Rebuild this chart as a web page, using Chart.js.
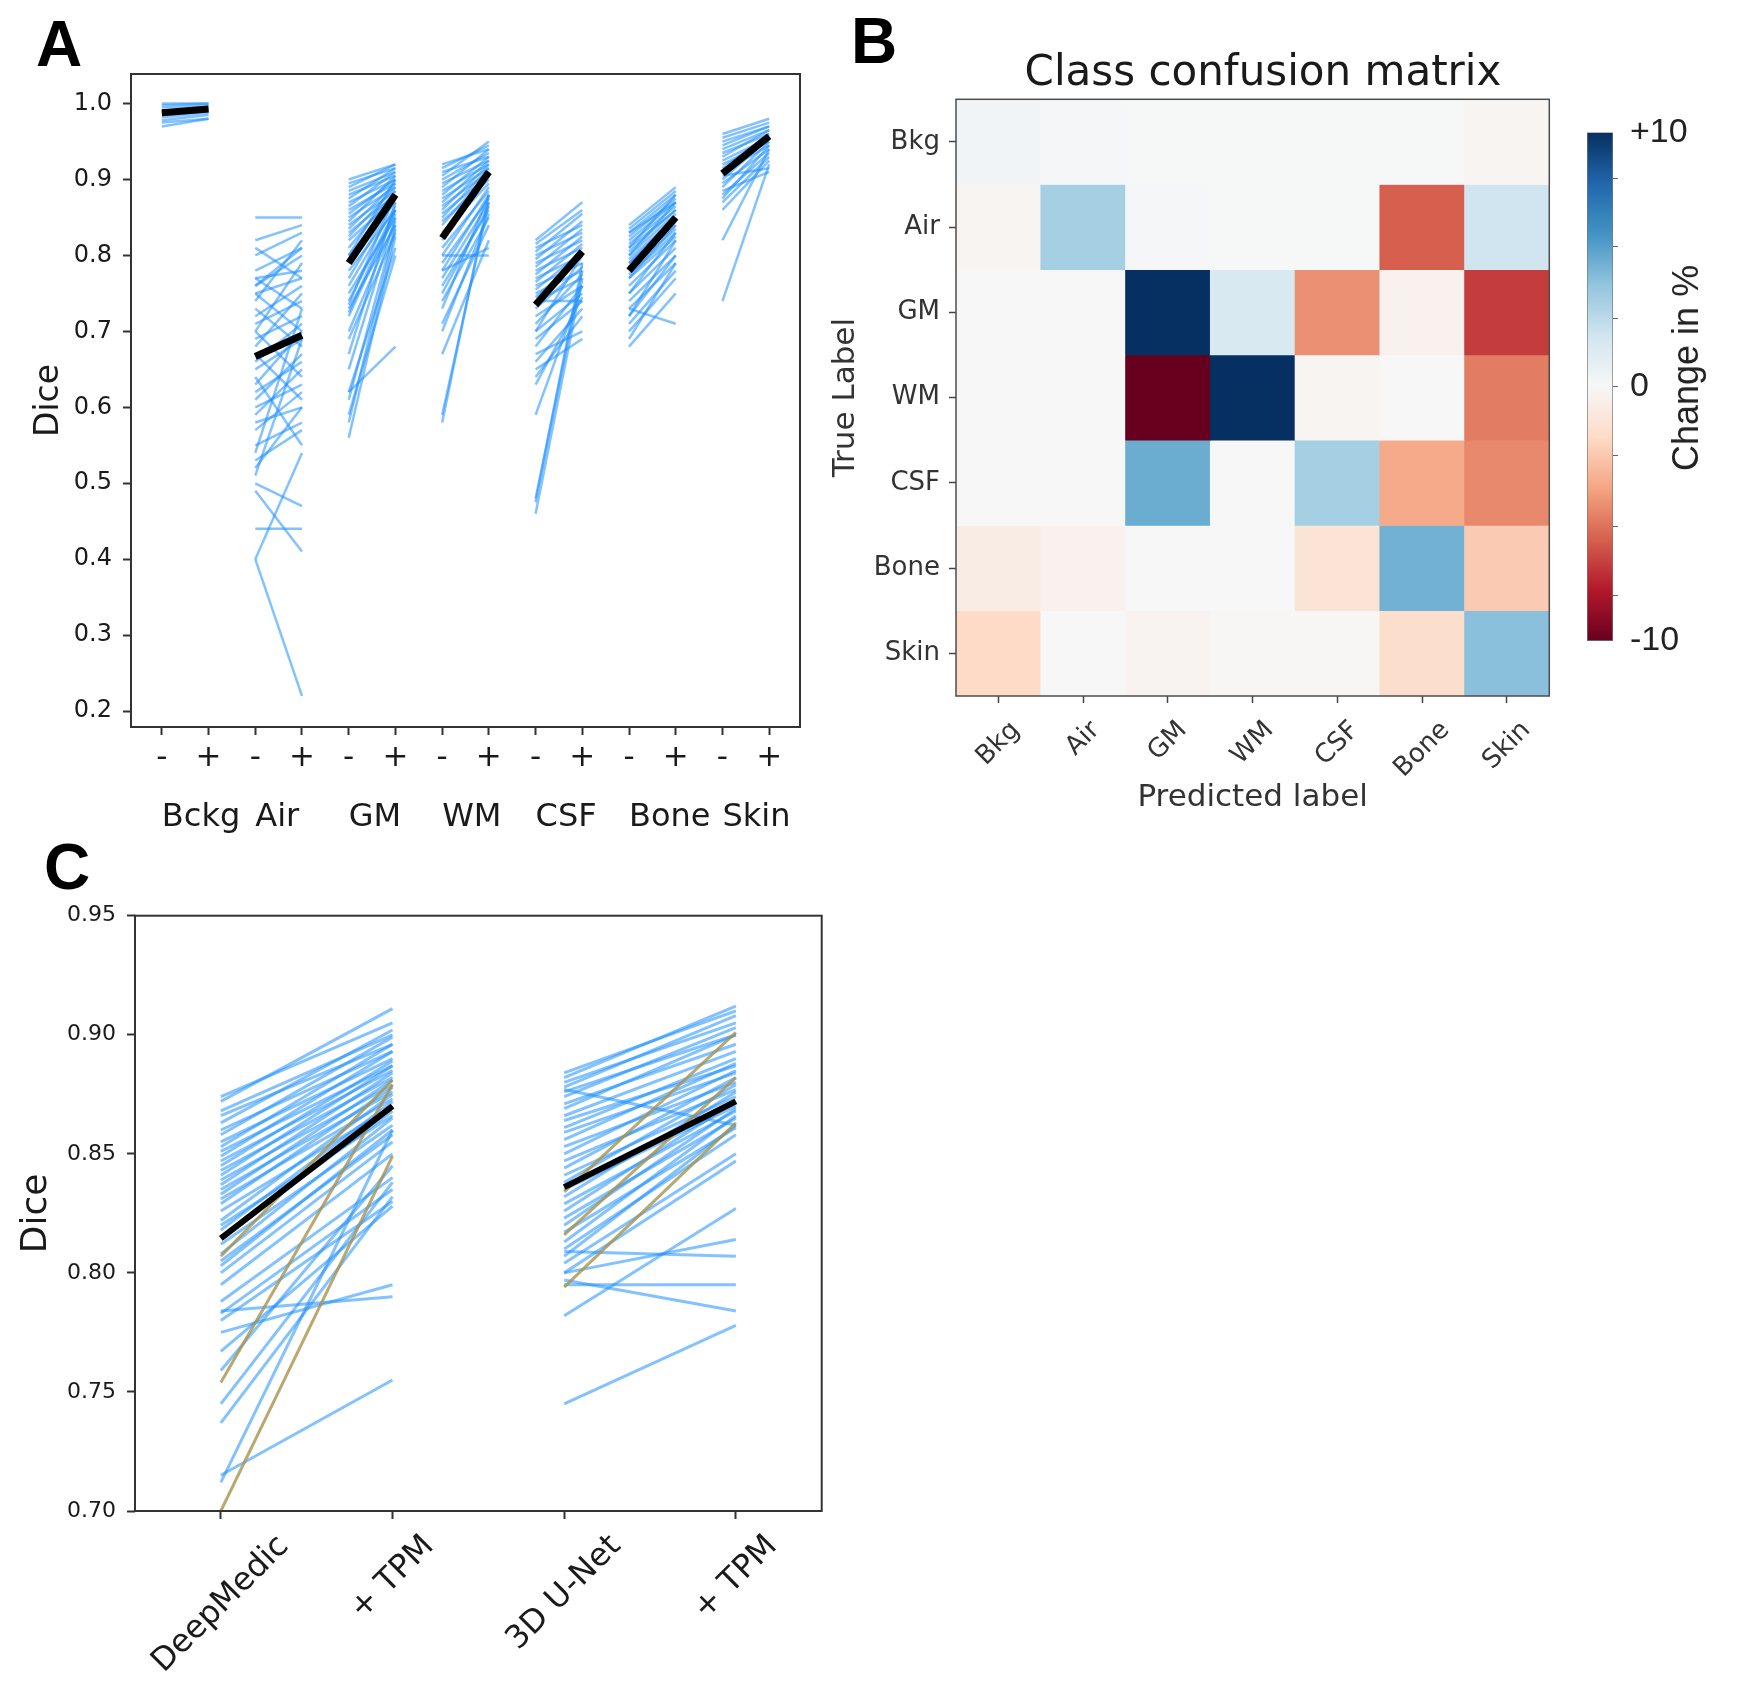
<!DOCTYPE html>
<html>
<head>
<meta charset="utf-8">
<title>Dice scores and class confusion</title>
<script src="https://cdn.jsdelivr.net/npm/chart.js@4.4.1/dist/chart.umd.min.js"></script>
<style>
  html, body { margin: 0; padding: 0; background: #fff; }
  #page { position: relative; width: 1738px; height: 1690px; overflow: hidden; background: #fff; }
  canvas { position: absolute; }
  .letter { position: absolute; font: bold 64px "Liberation Sans", Arial, sans-serif; line-height: 1; color: #000; }
  .txt { position: absolute; white-space: nowrap; line-height: 1; }
  #titleB { left: 1263px; top: 46px; transform: translateX(-50%); font: 42px "DejaVu Sans", sans-serif; color: #1a1a1a; }
  #cbarLabel { left: 1686px; top: 368px; transform: translate(-50%, -50%) rotate(-90deg); font: 36px "Liberation Sans", Arial, sans-serif; color: #222; }
</style>
</head>
<body>
<div id="page">
  <canvas id="chartA" width="830" height="860" style="left:0;top:0"></canvas>
  <canvas id="chartB" width="750" height="860" style="left:820px;top:0"></canvas>
  <canvas id="cbar" width="178" height="600" style="left:1560px;top:100px"></canvas>
  <canvas id="chartC" width="840" height="850" style="left:0;top:840px"></canvas>
  <div class="letter" style="left:36px;top:12px">A</div>
  <div class="letter" style="left:851px;top:9px">B</div>
  <div class="letter" style="left:44px;top:835px">C</div>
  <div class="txt" id="titleB">Class confusion matrix</div>
  <div class="txt" id="cbarLabel">Change in %</div>
</div>
<script>
// ---- panel A: Dice per subject, without (-) and with (+) ----
const classNamesA = ["Bckg", "Air", "GM", "WM", "CSF", "Bone", "Skin"];
const signLabels = ["-", "+"];
const yTicksA = [0.2, 0.3, 0.4, 0.5, 0.6, 0.7, 0.8, 0.9, 1.0];

const bckgBefore = [1.0, 0.998, 0.995, 0.99, 0.988, 0.985, 0.982, 0.978, 0.975, 0.97];
const bckgAfter = [1.0, 1.0, 0.998, 0.995, 0.993, 0.99, 0.988, 0.985, 0.98, 0.98];

const airBefore = [0.85, 0.82, 0.81, 0.80, 0.78, 0.77, 0.77, 0.76, 0.75, 0.75, 0.74, 0.73, 0.72, 0.71, 0.70, 0.70, 0.69, 0.68, 0.67, 0.66,
  0.65, 0.64, 0.63, 0.62, 0.61, 0.60, 0.59, 0.58, 0.57, 0.55, 0.54, 0.53, 0.51, 0.50, 0.49, 0.44, 0.40, 0.40, 0.52, 0.76];
const airAfter = [0.85, 0.84, 0.77, 0.83, 0.81, 0.78, 0.73, 0.80, 0.70, 0.77, 0.82, 0.68, 0.76, 0.74, 0.79, 0.64, 0.72, 0.75, 0.61, 0.71,
  0.69, 0.55, 0.70, 0.66, 0.67, 0.63, 0.65, 0.60, 0.62, 0.58, 0.73, 0.57, 0.69, 0.47, 0.41, 0.44, 0.22, 0.54, 0.60, 0.81];

const gmBefore = [0.90, 0.895, 0.89, 0.885, 0.88, 0.875, 0.87, 0.865, 0.86, 0.855, 0.85, 0.845, 0.84, 0.835, 0.83, 0.825, 0.82,
  0.81, 0.80, 0.79, 0.78, 0.77, 0.76, 0.75, 0.74, 0.73, 0.72, 0.70, 0.69, 0.67, 0.65, 0.62, 0.61, 0.59, 0.58, 0.56, 0.735, 0.725, 0.80, 0.62];
const gmAfter = [0.92, 0.915, 0.92, 0.91, 0.905, 0.915, 0.90, 0.91, 0.895, 0.90, 0.89, 0.905, 0.885, 0.895, 0.88, 0.89, 0.875,
  0.885, 0.87, 0.88, 0.86, 0.875, 0.865, 0.85, 0.86, 0.84, 0.855, 0.845, 0.83, 0.87, 0.85, 0.81, 0.84, 0.80, 0.835, 0.825, 0.88, 0.86, 0.90, 0.68];

const wmBefore = [0.92, 0.915, 0.91, 0.905, 0.90, 0.895, 0.89, 0.885, 0.88, 0.875, 0.87, 0.865, 0.86, 0.855, 0.85, 0.845, 0.84,
  0.83, 0.82, 0.81, 0.80, 0.79, 0.78, 0.77, 0.76, 0.75, 0.74, 0.73, 0.71, 0.70, 0.67, 0.59, 0.58, 0.80, 0.78];
const wmAfter = [0.94, 0.945, 0.93, 0.95, 0.935, 0.925, 0.94, 0.92, 0.93, 0.915, 0.925, 0.91, 0.92, 0.905, 0.915, 0.90, 0.91,
  0.895, 0.905, 0.885, 0.89, 0.875, 0.88, 0.87, 0.86, 0.865, 0.85, 0.88, 0.84, 0.855, 0.82, 0.87, 0.88, 0.80, 0.81];

const csfBefore = [0.82, 0.815, 0.81, 0.805, 0.80, 0.795, 0.79, 0.785, 0.78, 0.775, 0.77, 0.765, 0.76, 0.755, 0.75, 0.745, 0.74,
  0.73, 0.72, 0.71, 0.70, 0.69, 0.68, 0.67, 0.66, 0.65, 0.64, 0.63, 0.59, 0.48, 0.475, 0.46, 0.74, 0.70];
const csfAfter = [0.87, 0.86, 0.84, 0.855, 0.83, 0.845, 0.82, 0.835, 0.81, 0.825, 0.80, 0.815, 0.79, 0.805, 0.78, 0.80, 0.77,
  0.785, 0.76, 0.775, 0.75, 0.74, 0.76, 0.70, 0.73, 0.69, 0.72, 0.745, 0.76, 0.78, 0.79, 0.77, 0.74, 0.80];

const boneBefore = [0.84, 0.835, 0.83, 0.825, 0.82, 0.815, 0.81, 0.805, 0.80, 0.795, 0.79, 0.785, 0.78, 0.775, 0.77,
  0.76, 0.75, 0.74, 0.73, 0.72, 0.71, 0.70, 0.69, 0.68, 0.73, 0.80, 0.83, 0.81, 0.79, 0.77, 0.75, 0.72];
const boneAfter = [0.89, 0.885, 0.88, 0.875, 0.87, 0.865, 0.88, 0.86, 0.855, 0.85, 0.845, 0.84, 0.835, 0.83, 0.825,
  0.82, 0.81, 0.80, 0.79, 0.80, 0.78, 0.77, 0.79, 0.75, 0.71, 0.87, 0.87, 0.86, 0.85, 0.84, 0.83, 0.82];

const skinBefore = [0.96, 0.955, 0.95, 0.945, 0.94, 0.935, 0.93, 0.925, 0.92, 0.915, 0.91, 0.90, 0.895, 0.89, 0.88,
  0.875, 0.87, 0.86, 0.82, 0.74, 0.905, 0.885];
const skinAfter = [0.98, 0.975, 0.97, 0.97, 0.965, 0.96, 0.965, 0.955, 0.95, 0.96, 0.945, 0.955, 0.94, 0.95, 0.935,
  0.945, 0.93, 0.925, 0.94, 0.92, 0.915, 0.91];

const meanBeforeA = [0.988, 0.667, 0.79, 0.823, 0.735, 0.78, 0.908];
const meanAfterA = [0.993, 0.695, 0.88, 0.91, 0.805, 0.85, 0.957];

// ---- panel B: change of the confusion matrix, in % (rows = true, cols = predicted) ----
const cmLabels = ["Bkg", "Air", "GM", "WM", "CSF", "Bone", "Skin"];
const cmChange = [
  [0.3, 0.1, 0.05, 0.05, 0.05, 0.05, -0.2],
  [-0.2, 3.4, 0.1, 0.05, 0.05, -6.0, 2.0],
  [0.0, 0.0, 10, 1.6, -4.6, -0.4, -7.0],
  [0.0, 0.0, -10, 10, -0.2, 0.0, -5.2],
  [0.0, 0.0, 5.0, 0.0, 3.4, -3.8, -4.8],
  [-0.8, -0.4, 0.0, 0.0, -1.4, 4.8, -2.6],
  [-2.0, 0.0, -0.3, -0.1, -0.1, -1.8, 4.2]
];
const cbarRange = [-10, 10];
const cbarLabelTicks = [-10, 0, 10];
const cbarMinorTicks = [-8.2, -5.5, -2.7, 0, 2.7, 5.5, 8.2];

// ---- panel C: DeepMedic / 3D U-Net, without and with TPM ----
const methodLabels = ["DeepMedic", "+ TPM", "3D U-Net", "+ TPM"];
const yTicksC = [0.70, 0.75, 0.80, 0.85, 0.90, 0.95];

const deepBefore = [0.874, 0.872, 0.868, 0.866, 0.863, 0.86, 0.858, 0.855, 0.853, 0.851, 0.849, 0.847, 0.845, 0.843, 0.841,
  0.839, 0.837, 0.835, 0.833, 0.831, 0.829, 0.826, 0.822, 0.82, 0.818, 0.815, 0.812, 0.808, 0.805, 0.803,
  0.80, 0.795, 0.788, 0.784, 0.783, 0.78, 0.775, 0.767, 0.759, 0.745, 0.737, 0.715, 0.712];
const deepAfter = [0.905, 0.911, 0.90, 0.896, 0.902, 0.893, 0.899, 0.89, 0.896, 0.887, 0.893, 0.885, 0.889, 0.882, 0.887,
  0.879, 0.884, 0.876, 0.881, 0.873, 0.878, 0.87, 0.875, 0.866, 0.872, 0.868, 0.862, 0.865, 0.858, 0.86,
  0.855, 0.85, 0.84, 0.79, 0.835, 0.83, 0.795, 0.828, 0.845, 0.838, 0.832, 0.755, 0.86];
const deepGoldBefore = [0.807, 0.754, 0.70];
const deepGoldAfter = [0.881, 0.879, 0.849];

const unetBefore = [0.884, 0.882, 0.88, 0.878, 0.876, 0.874, 0.871, 0.869, 0.866, 0.864, 0.861, 0.859, 0.856, 0.853, 0.85,
  0.847, 0.844, 0.841, 0.838, 0.835, 0.832, 0.829, 0.826, 0.823, 0.82, 0.817, 0.813, 0.81, 0.807, 0.804,
  0.80, 0.797, 0.795, 0.782, 0.745, 0.809, 0.80, 0.877];
const unetAfter = [0.91, 0.912, 0.905, 0.908, 0.90, 0.903, 0.896, 0.9, 0.893, 0.887, 0.89, 0.884, 0.888, 0.88, 0.885,
  0.877, 0.882, 0.874, 0.879, 0.87, 0.876, 0.868, 0.872, 0.865, 0.869, 0.861, 0.866, 0.858, 0.862, 0.85,
  0.847, 0.784, 0.795, 0.827, 0.778, 0.807, 0.814, 0.862];
const unetGoldBefore = [0.834, 0.816, 0.794];
const unetGoldAfter = [0.901, 0.882, 0.863];

const meanBeforeC = [0.8145, 0.836];
const meanAfterC = [0.870, 0.872];

// ---- styles ----
const FONT = "'DejaVu Sans', sans-serif";
const blueA = "rgba(30, 144, 255, 0.55)";
const blueC = "rgba(30, 144, 255, 0.55)";
const gold = "rgba(168, 146, 76, 0.8)";
const rdbuStops = ["#67001f", "#b2182b", "#d6604d", "#f4a582", "#fddbc7", "#f7f7f7",
  "#d1e5f0", "#92c5de", "#4393c3", "#2166ac", "#053061"];

Chart.defaults.font.family = FONT;
Chart.defaults.color = "#1a1a1a";

function hexRgb(h) {
  return [1, 3, 5].map(i => parseInt(h.slice(i, i + 2), 16));
}

function rdbu(v) {
  let t = (v - cbarRange[0]) / (cbarRange[1] - cbarRange[0]);
  t = Math.min(1, Math.max(0, t)) * (rdbuStops.length - 1);
  const i = Math.min(Math.floor(t), rdbuStops.length - 2);
  const f = t - i;
  const a = hexRgb(rdbuStops[i]), b = hexRgb(rdbuStops[i + 1]);
  const c = a.map((x, k) => Math.round(x + (b[k] - x) * f));
  return `rgb(${c[0]}, ${c[1]}, ${c[2]})`;
}

function segment(x0, x1, y0, y1, color, width, order) {
  return {
    data: [{ x: x0, y: y0 }, { x: x1, y: y1 }],
    showLine: true,
    borderColor: color,
    borderWidth: width,
    borderCapStyle: "butt",
    pointRadius: 0,
    pointHoverRadius: 0,
    tension: 0,
    order: order
  };
}

// box round the plot area, like matplotlib spines
const framePlugin = {
  id: "frame",
  afterDatasetsDraw(chart, args, opts) {
    const { ctx, chartArea: a } = chart;
    ctx.save();
    ctx.strokeStyle = opts.color || "#333";
    ctx.lineWidth = opts.width || 2;
    ctx.strokeRect(a.left, a.top, a.right - a.left, a.bottom - a.top);
    ctx.restore();
  }
};

// tick labels turned 45 degrees and centred under the tick
const slantPlugin = {
  id: "slant",
  afterDraw(chart, args, opts) {
    if (!opts.labels) return;
    const { ctx, chartArea } = chart;
    const scale = chart.scales.x;
    ctx.save();
    ctx.font = opts.size + "px " + FONT;
    ctx.fillStyle = opts.color;
    ctx.textAlign = "center";
    ctx.textBaseline = "middle";
    opts.labels.forEach((label, i) => {
      const w = ctx.measureText(label).width;
      const half = (w + opts.size) * Math.SQRT1_2 / 2;
      ctx.save();
      ctx.translate(scale.getPixelForValue(i), chartArea.bottom + opts.gap + half);
      ctx.rotate(-Math.PI / 4);
      ctx.fillText(label, 0, 0);
      ctx.restore();
    });
    ctx.restore();
  }
};

const baseOptions = {
  responsive: false,
  animation: false,
  devicePixelRatio: 1,
  events: []
};

// ---------- chart A ----------
const groupsA = [
  [bckgBefore, bckgAfter], [airBefore, airAfter], [gmBefore, gmAfter], [wmBefore, wmAfter],
  [csfBefore, csfAfter], [boneBefore, boneAfter], [skinBefore, skinAfter]
];
const datasetsA = [];
groupsA.forEach(([before, after], g) => {
  datasetsA.push(segment(2 * g, 2 * g + 1, meanBeforeA[g], meanAfterA[g], "#000", 7, 0));
  before.forEach((b, k) => datasetsA.push(segment(2 * g, 2 * g + 1, b, after[k], blueA, 2.5, 2)));
});
const xPosA = classNamesA.flatMap((_, g) => [2 * g, 2 * g + 1]);

new Chart(document.getElementById("chartA"), {
  type: "scatter",
  data: { datasets: datasetsA },
  options: {
    ...baseOptions,
    layout: { padding: { top: 74, right: 30, left: 0, bottom: 0 } },
    plugins: { legend: { display: false }, tooltip: { enabled: false }, frame: { color: "#333", width: 2 } },
    scales: {
      x: {
        type: "linear", min: -0.66, max: 13.66,
        afterBuildTicks: s => { s.ticks = xPosA.map(v => ({ value: v })); },
        ticks: { callback: v => signLabels[v % 2], font: { size: 31 }, padding: 4, autoSkip: false, maxRotation: 0 },
        grid: { drawOnChartArea: false, tickLength: 8, tickColor: "#333", tickWidth: 2 },
        border: { display: false },
        afterFit: s => { s.height = 60; }
      },
      x2: {
        type: "linear", axis: "x", position: "bottom", weight: 1, min: -0.66, max: 13.66,
        afterBuildTicks: s => { s.ticks = classNamesA.map((_, g) => ({ value: 2 * g })); },
        ticks: { callback: v => classNamesA[v / 2], align: "start", font: { size: 32 }, padding: 11, autoSkip: false, maxRotation: 0 },
        grid: { display: false, drawTicks: false },
        border: { display: false },
        afterFit: s => { s.height = 73; }
      },
      y: {
        min: 0.179, max: 1.039,
        afterBuildTicks: s => { s.ticks = yTicksA.map(v => ({ value: v })); },
        ticks: { callback: v => v.toFixed(1), font: { size: 24 }, padding: 11 },
        grid: { drawOnChartArea: false, tickLength: 8, tickColor: "#333", tickWidth: 2 },
        border: { display: false },
        title: { display: true, text: "Dice", font: { size: 33 }, padding: { top: 30, bottom: 0 } },
        afterFit: s => { s.width = 131; }
      }
    }
  },
  plugins: [framePlugin]
});

// ---------- chart B ----------
const datasetsB = cmChange.map((row, r) => ({
  data: row.map(() => [r - 0.5, r + 0.5]),
  backgroundColor: row.map(rdbu),
  borderWidth: 0,
  barPercentage: 1,
  categoryPercentage: 1,
  grouped: false
}));

new Chart(document.getElementById("chartB"), {
  type: "bar",
  data: { labels: cmLabels, datasets: datasetsB },
  options: {
    ...baseOptions,
    layout: { padding: { top: 99.3, right: 20.7, left: 0, bottom: 0 } },
    plugins: {
      legend: { display: false }, tooltip: { enabled: false },
      frame: { color: "#4d4d4d", width: 1.5 },
      slant: { labels: cmLabels, size: 26, gap: 21, color: "#333" }
    },
    scales: {
      x: {
        type: "category",
        ticks: { display: false },
        grid: { drawOnChartArea: false, offset: false, tickLength: 7, tickColor: "#444", tickWidth: 1.5 },
        border: { display: false },
        title: { display: true, text: "Predicted label", font: { size: 31 }, color: "#333", padding: { top: 0, bottom: 43 } },
        afterFit: s => { s.height = 164; }
      },
      y: {
        type: "linear", reverse: true, min: -0.5, max: 6.5,
        afterBuildTicks: s => { s.ticks = cmLabels.map((_, i) => ({ value: i })); },
        ticks: { callback: v => cmLabels[v], font: { size: 26 }, color: "#333", padding: 9, autoSkip: false },
        grid: { drawOnChartArea: false, tickLength: 7, tickColor: "#444", tickWidth: 1.5 },
        border: { display: false },
        title: { display: true, text: "True Label", font: { size: 31 }, color: "#333", padding: { top: 7, bottom: 0 } },
        afterFit: s => { s.width = 136; }
      }
    }
  },
  plugins: [framePlugin, slantPlugin]
});

// ---------- colour bar ----------
function cbarGradient(ctx) {
  const a = ctx.chart.chartArea;
  if (!a) return "#f7f7f7";
  const g = ctx.chart.ctx.createLinearGradient(0, a.bottom, 0, a.top);
  rdbuStops.forEach((c, i) => g.addColorStop(i / (rdbuStops.length - 1), c));
  return g;
}

new Chart(document.getElementById("cbar"), {
  type: "bar",
  data: {
    labels: [""],
    datasets: [{
      data: [cbarRange],
      backgroundColor: cbarGradient,
      borderColor: "#777",
      borderWidth: 1,
      borderSkipped: false,
      barPercentage: 1,
      categoryPercentage: 1
    }]
  },
  options: {
    ...baseOptions,
    layout: { padding: { top: 24.3, right: 0, left: 27, bottom: 59 } },
    plugins: { legend: { display: false }, tooltip: { enabled: false } },
    scales: {
      x: { display: false },
      y: {
        position: "right", min: cbarRange[0], max: cbarRange[1],
        afterBuildTicks: s => {
          const vals = [...new Set([...cbarMinorTicks, ...cbarLabelTicks])].sort((p, q) => p - q);
          s.ticks = vals.map(v => ({ value: v }));
        },
        ticks: {
          callback: v => cbarLabelTicks.includes(v) ? (v > 0 ? "+" + v : String(v)) : "",
          font: { family: "'Liberation Sans', Arial, sans-serif", size: 34 },
          color: "#222", padding: 12, autoSkip: false
        },
        grid: {
          drawOnChartArea: false, tickLength: 5, tickWidth: 1,
          tickColor: c => (c.tick && Math.abs(c.tick.value) === cbarRange[1]) ? "rgba(0,0,0,0)" : "#666"
        },
        border: { display: false },
        afterFit: s => { s.width = 125; }
      }
    }
  }
});

// ---------- chart C ----------
const datasetsC = [];
[[deepBefore, deepAfter, deepGoldBefore, deepGoldAfter], [unetBefore, unetAfter, unetGoldBefore, unetGoldAfter]]
  .forEach(([before, after, gBefore, gAfter], m) => {
    const x0 = 2 * m, x1 = 2 * m + 1;
    datasetsC.push(segment(x0, x1, meanBeforeC[m], meanAfterC[m], "#000", 6, 0));
    gBefore.forEach((b, k) => datasetsC.push(segment(x0, x1, b, gAfter[k], gold, 3, 1)));
    before.forEach((b, k) => datasetsC.push(segment(x0, x1, b, after[k], blueC, 3, 2)));
  });

new Chart(document.getElementById("chartC"), {
  type: "scatter",
  data: { datasets: datasetsC },
  options: {
    ...baseOptions,
    layout: { padding: { top: 75.7, right: 18.3, left: 0, bottom: 0 } },
    plugins: {
      legend: { display: false }, tooltip: { enabled: false },
      frame: { color: "#333", width: 2 },
      slant: { labels: methodLabels, size: 32, gap: 19, color: "#1a1a1a" }
    },
    scales: {
      x: {
        type: "linear", min: -0.5, max: 3.5,
        afterBuildTicks: s => { s.ticks = methodLabels.map((_, i) => ({ value: i })); },
        ticks: { display: false },
        grid: { drawOnChartArea: false, tickLength: 8, tickColor: "#333", tickWidth: 2 },
        border: { display: false },
        afterFit: s => { s.height = 179; }
      },
      y: {
        min: 0.70, max: 0.95,
        afterBuildTicks: s => { s.ticks = yTicksC.map(v => ({ value: v })); },
        ticks: { callback: v => v.toFixed(2), font: { size: 22 }, padding: 11 },
        grid: { drawOnChartArea: false, tickLength: 8, tickColor: "#333", tickWidth: 2 },
        border: { display: false },
        title: { display: true, text: "Dice", font: { size: 36 }, padding: { top: 15, bottom: 0 } },
        afterFit: s => { s.width = 135; }
      }
    }
  },
  plugins: [framePlugin, slantPlugin]
});
</script>
</body>
</html>
